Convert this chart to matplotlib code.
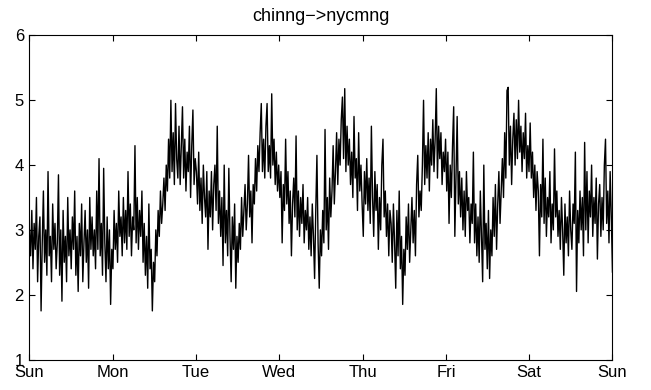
#! /usr/bin/env python3
import numpy as np
import matplotlib.pyplot as plt

# values, one list per day (4 hour groups of 12 samples)
sun = [3.0, 2.6, 3.3, 2.4, 3.1, 2.7, 3.5, 2.2, 2.9, 3.2, 1.75, 2.8,
       3.6, 2.5, 3.0, 2.3, 3.9, 2.6, 2.9, 2.2, 3.4, 2.7, 3.1, 2.4,
       2.8, 3.85, 2.3, 3.0, 1.9, 3.3, 2.5, 2.9, 2.2, 3.5, 2.6, 3.0,
       2.4, 3.2, 2.7, 3.6, 2.3, 2.9, 2.05, 3.1, 2.6, 3.4, 2.2, 2.8,
       3.3, 2.5, 3.0, 2.1, 3.5, 2.7, 3.2, 2.6, 3.0, 2.4, 3.6, 2.7,
       4.1, 2.6, 3.1, 2.3, 3.95, 2.8, 2.2, 3.2, 2.4, 3.0, 1.85, 2.7]
mon = [2.4, 3.3, 2.7, 3.1, 2.5, 3.6, 2.9, 3.2, 2.6, 3.5, 2.8, 3.3,
       2.7, 3.9, 2.9, 3.4, 2.6, 3.2, 3.0, 4.3, 2.8, 3.5, 2.7, 3.3,
       2.9, 3.6, 2.5, 3.1, 2.3, 2.9, 2.1, 3.4, 2.4, 2.7, 1.75, 2.5,
       2.2, 3.0, 2.6, 3.3, 2.9, 3.6, 3.1, 3.4, 3.8, 3.3, 4.0, 3.6,
       4.4, 3.8, 5.0, 3.9, 4.5, 3.7, 4.95, 4.1, 3.8, 4.6, 3.7, 4.3,
       4.9, 3.8, 4.4, 3.6, 4.2, 3.9, 4.6, 3.5, 4.3, 4.85, 3.7, 4.1]
tue = [3.9, 3.4, 4.2, 3.3, 3.8, 3.1, 4.0, 3.5, 3.2, 3.9, 2.7, 3.6,
       3.2, 3.9, 3.0, 3.7, 4.0, 3.3, 4.6, 3.1, 3.6, 2.9, 3.5, 2.45,
       4.0, 2.8, 3.3, 2.6, 3.95, 2.9, 2.2, 3.2, 2.7, 3.4, 2.1, 2.9,
       2.5, 3.1, 2.7, 3.5, 2.9, 3.3, 3.7, 3.0, 3.4, 4.15, 3.2, 3.6,
       2.8, 3.7, 3.4, 4.1, 3.6, 4.3, 3.9, 4.5, 4.95, 3.9, 4.4, 3.8,
       4.6, 4.95, 3.9, 4.3, 3.8, 5.1, 4.0, 4.4, 3.7, 4.2, 3.6, 4.0]
wed = [3.5, 3.9, 2.8, 3.7, 3.3, 4.4, 3.4, 3.9, 3.1, 3.6, 2.6, 3.4,
       3.8, 3.2, 4.45, 3.0, 3.6, 2.9, 3.5, 3.1, 3.7, 2.8, 3.3, 3.0,
       3.5, 2.7, 3.2, 2.6, 3.4, 2.9, 2.25, 3.3, 4.15, 2.8, 2.1, 3.0,
       2.6, 3.3, 2.8, 4.55, 3.0, 3.5, 2.7, 3.8, 3.2, 3.6, 4.3, 3.4,
       3.9, 4.5, 3.7, 4.4, 4.0, 4.7, 5.05, 4.1, 5.18, 3.9, 4.6, 4.0,
       4.4, 3.7, 4.2, 3.5, 4.75, 3.8, 4.1, 3.3, 4.5, 3.6, 4.0, 3.4]
thu = [2.9, 3.9, 3.4, 4.1, 3.3, 3.8, 3.1, 4.6, 3.5, 2.9, 3.9, 3.3,
       3.7, 2.7, 3.5, 3.0, 4.0, 4.4, 3.2, 3.6, 2.9, 3.4, 2.6, 3.3,
       3.1, 2.5, 3.4, 2.8, 2.1, 3.3, 2.6, 3.6, 2.4, 2.9, 1.85, 2.7,
       2.3, 3.2, 2.7, 3.4, 2.5, 3.0, 3.5, 2.8, 3.3, 2.6, 3.7, 4.15,
       3.2, 3.6, 3.3, 4.0, 5.0, 3.7, 4.3, 3.8, 4.5, 3.6, 4.4, 4.0,
       4.7, 3.9, 4.4, 5.18, 3.8, 4.6, 4.1, 4.5, 3.7, 4.2, 3.9, 4.4]
fri = [3.6, 4.2, 3.1, 4.0, 3.5, 4.3, 4.9, 2.9, 3.8, 4.75, 3.4, 3.9,
       3.2, 3.8, 3.0, 3.6, 2.9, 3.9, 3.3, 3.5, 2.8, 3.4, 3.1, 4.2,
       2.8, 3.4, 2.6, 3.2, 2.5, 3.6, 2.9, 2.2, 4.0, 2.7, 3.1, 2.4,
       3.3, 2.25, 3.0, 2.6, 3.5, 2.9, 3.7, 2.7, 3.4, 3.9, 3.1, 3.6,
       4.1, 3.5, 4.5, 3.8, 5.15, 5.2, 4.0, 4.6, 3.7, 4.4, 4.8, 4.0,
       4.7, 4.1, 5.0, 4.2, 4.6, 3.9, 4.5, 4.1, 4.8, 3.8, 4.3, 3.9]
sat = [4.65, 3.8, 4.2, 3.5, 4.0, 3.3, 3.9, 3.6, 2.6, 3.7, 3.2, 4.4,
       3.1, 3.8, 2.9, 3.5, 3.2, 3.9, 2.8, 3.4, 3.0, 4.25, 3.2, 3.6,
       2.9, 3.3, 2.7, 3.5, 3.0, 2.3, 3.4, 2.8, 3.2, 2.6, 3.6, 3.0,
       2.7, 3.4, 3.1, 4.2, 2.05, 3.3, 2.8, 3.6, 3.0, 3.5, 2.6, 4.35,
       3.0, 3.9, 2.8, 3.6, 3.2, 4.0, 2.9, 3.5, 3.1, 3.8, 2.55, 3.4,
       3.7, 2.9, 3.5, 3.0, 4.0, 4.4, 3.1, 3.6, 2.8, 3.9, 3.2, 2.35]

day_labels = ['Sun', 'Mon', 'Tue', 'Wed', 'Thu', 'Fri', 'Sat', 'Sun']
y_ticks = [1, 2, 3, 4, 5, 6]

if __name__ == "__main__":
    plt.rcParams['font.family'] = ['Liberation Sans', 'DejaVu Sans']

    values = np.concatenate([sun, mon, tue, wed, thu, fri, sat])
    t = np.linspace(0, 7, len(values))

    fig = plt.figure(figsize=(6.51, 3.9), dpi=100)
    ax = fig.add_axes([0.0453, 0.0782, 0.8955, 0.8308])
    ax.plot(t, values, color='black', linewidth=1.0)

    ax.set_xlim(0, 7)
    ax.set_ylim(1, 6)
    ax.set_xticks(range(8))
    ax.set_xticklabels(day_labels)
    ax.set_yticks(y_ticks)
    ax.tick_params(direction='in', length=4, width=0.8, top=True, right=True,
                   labelsize=12, pad=4)
    for s in ax.spines.values():
        s.set_linewidth(0.8)

    # title sits a bit higher and larger in the original
    ax.set_title('chinng\u2212>nycmng', fontsize=13, pad=10.5)
    fig.savefig('out.png', dpi=100)
